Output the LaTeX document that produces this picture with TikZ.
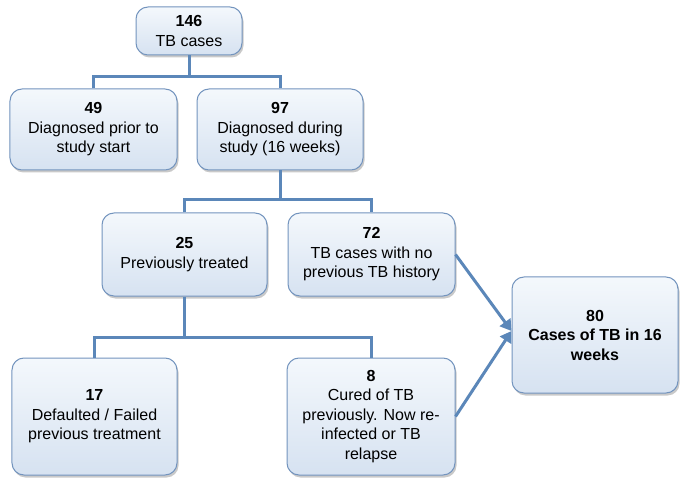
\documentclass[tikz,border=0pt]{standalone}
\usepackage{fontspec}
\setmainfont{Liberation Sans}
\usetikzlibrary{shadows,arrows.meta,calc}
\definecolor{lineblue}{HTML}{5B87B9}
\definecolor{boxborder}{HTML}{7394BE}
\definecolor{boxtop}{HTML}{F4F8FC}
\definecolor{boxbot}{HTML}{D6E2F1}
\tikzset{
  box/.style={draw=boxborder, line width=1bp, rounded corners=12bp,
    top color=boxtop, bottom color=boxbot, align=center,
    font=\fontsize{16bp}{19.5bp}\selectfont, inner sep=2bp,
    drop shadow={shadow xshift=1.5bp, shadow yshift=-2.5bp, opacity=0.35, fill=black!60}},
  conn/.style={draw=lineblue, line width=3bp},
  arr/.style={conn, -{Triangle[length=11bp,width=13bp]}},
}
\begin{document}
\begin{tikzpicture}[x=1bp,y=-1bp]
\fill[white] (0,0) rectangle (685,484);
\useasboundingbox (0,0) rectangle (685,484);

\node[box, minimum width=106bp, minimum height=48bp] (n146) at (189,31) {\textbf{146}\\TB cases};
\node[box, minimum width=167bp, minimum height=81bp] (n49) at (93.5,129.5) {\textbf{49}\\Diagnosed prior to\\study start};
\node[box, minimum width=166bp, minimum height=81bp] (n97) at (280,129.5) {\textbf{97}\\Diagnosed during\\study (16 weeks)};
\node[box, minimum width=165bp, minimum height=83bp] (n25) at (184.5,254.5) {\textbf{25}\\Previously treated};
\node[box, minimum width=167bp, minimum height=83bp] (n72) at (371.5,254.5) {\textbf{72}\\TB cases with no\\previous TB history};
\node[box, minimum width=166bp, minimum height=116bp] (n80) at (595,335) {\textbf{80}\\\textbf{Cases of TB in 16}\\\textbf{weeks}};
\node[box, minimum width=165bp, minimum height=117bp] (n17) at (94.5,416.5) {\textbf{17}\\Defaulted / Failed\\previous treatment};
\node[box, minimum width=168bp, minimum height=117bp] (n8) at (371,416.5) {\textbf{8}\\Cured of TB\\previously. Now re-\\infected or TB\\relapse};

\draw[conn] (n146.south) -- ++(0,21) coordinate (j1);
\draw[conn] (n49.north) |- (j1) -| (n97.north);
\draw[conn] (n97.south) -- ++(0,29) coordinate (j2);
\draw[conn] (n25.north) |- (j2) -| (n72.north);
\draw[conn] (n25.south) -- ++(0,41) coordinate (j3);
\draw[conn] (n17.north) |- (j3) -| (n8.north);

\coordinate (tip) at ($(n80.west)+(0,-4)$);
\draw[arr] (n72.east) -- (tip);
\draw[arr] (n8.east) -- (tip);
\end{tikzpicture}
\end{document}
